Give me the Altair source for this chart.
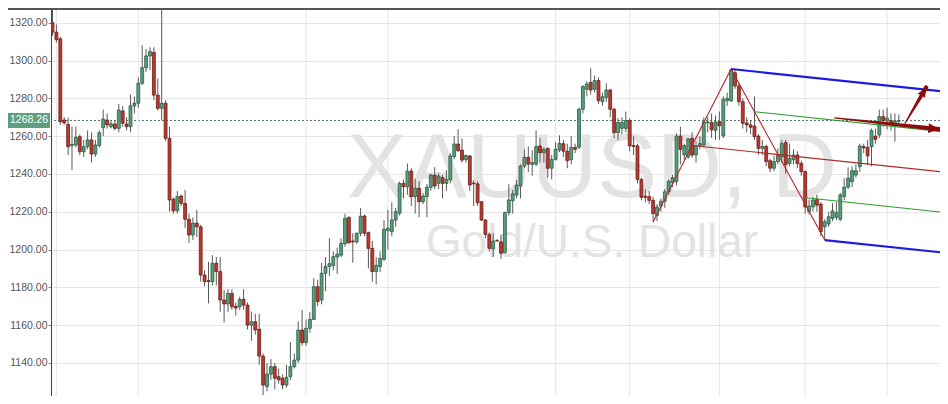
import altair as alt
import pandas as pd

# ---------------- data ----------------
opens = [1320, 1315, 1311.5, 1268.5, 1266.2, 1255, 1255.3, 1259.7, 1251.7, 1254.4,
         1258, 1250.5, 1255, 1264.4, 1268.5, 1265, 1266.4, 1264.1, 1273.3, 1266.4,
         1265, 1276, 1277.4, 1288, 1296.2, 1302.4, 1304.3, 1281.7, 1274.7, 1277.4,
         1258.8, 1226.6, 1220.5, 1228.3, 1224.4, 1216, 1207.7, 1214, 1212, 1186.5,
         1183.5, 1183, 1192.7, 1188.3, 1173.3, 1171.2, 1176.8, 1170, 1169.7, 1173.6,
         1170.6, 1160, 1161.8, 1157.8, 1143.6, 1127.4, 1134.1, 1138, 1132.7, 1131.9,
         1128.3, 1132.7, 1138, 1141.5, 1157.4, 1150.7, 1158.3, 1163, 1180.3, 1173.3,
         1187.4, 1191, 1191.5, 1196, 1197, 1203, 1217, 1204.5, 1204, 1208.6,
         1217.7, 1208.9, 1200.6, 1188.3, 1190.9, 1194.8, 1210, 1209.4, 1215.6, 1219.2,
         1235, 1233.2, 1241.5, 1228, 1232.4, 1225.3, 1228, 1232.9, 1239.4, 1235,
         1238, 1235, 1236.8, 1249.1, 1255.8, 1252.6, 1247.6, 1249.5, 1235.2, 1234.7,
         1225.3, 1215.6, 1208, 1200.3, 1204.8, 1204, 1198.3, 1219.5, 1225.8, 1228.8,
         1233.6, 1244.2, 1248.8, 1245, 1245.2, 1254.8, 1251.2, 1253.5, 1243, 1247.7,
         1252.6, 1256, 1252, 1247.5, 1254, 1254.1, 1274.2, 1284.8, 1288.4, 1284.8,
         1289.4, 1278.2, 1280.5, 1284.4, 1274.2, 1261.8, 1264.1, 1264.1, 1268.2, 1255,
         1254.8, 1237, 1228.3, 1228, 1226, 1218, 1223, 1225.5, 1230.5, 1235.5,
         1236, 1260, 1250, 1249, 1258.8, 1250, 1255, 1255.3, 1267, 1267.2,
         1263, 1267.6, 1260.1, 1278.7, 1278.7, 1293.5, 1286.5, 1278.2, 1267, 1265.9,
         1265.3, 1260, 1253.5, 1254.5, 1247, 1243, 1246.5, 1249, 1256.6, 1245.6,
         1247.5, 1250, 1245.6, 1241.2, 1220, 1222.6, 1226.5, 1224, 1212, 1213.5,
         1216.5, 1217, 1216, 1228, 1233, 1235.9, 1239.4, 1243.8, 1254.5, 1254,
         1254.4, 1260, 1260.6, 1270.3, 1268, 1268.2, 1266, 1267.8]
highs = [1328.5, 1319, 1312.5, 1270, 1269.6, 1265, 1265, 1261, 1258, 1263,
         1262, 1258, 1263, 1274, 1272, 1268, 1268, 1277, 1276, 1270,
         1282, 1281, 1291, 1308, 1306, 1307, 1307, 1290.5, 1338, 1279,
         1265, 1227.5, 1231, 1229, 1231.5, 1219, 1217, 1221, 1213, 1189,
         1193.5, 1197, 1196, 1196, 1178.6, 1179, 1179, 1172, 1175, 1179,
         1172, 1167, 1166, 1166, 1145, 1140, 1142, 1140, 1137, 1134,
         1139, 1151, 1145, 1162, 1168, 1163, 1167, 1184.8, 1184, 1193,
         1196, 1206, 1199, 1201, 1206, 1219, 1217.5, 1208.6, 1209, 1222,
         1218.5, 1209.5, 1204.5, 1196, 1199, 1215.5, 1221, 1225, 1222, 1236,
         1237, 1245.5, 1243, 1237.4, 1236, 1230, 1234.6, 1240, 1243.6, 1240.6,
         1239.5, 1242, 1251, 1260, 1263.6, 1258.8, 1250.3, 1250, 1236.8, 1236,
         1225.5, 1216, 1209, 1208.6, 1205.5, 1208, 1220, 1234.6, 1231.5, 1236.8,
         1245, 1253, 1254.5, 1252.6, 1263, 1259, 1254, 1254, 1250, 1257,
         1260.4, 1258, 1256, 1260, 1256, 1275, 1287, 1289, 1295.9, 1292,
         1291, 1283, 1288, 1285, 1275, 1269.5, 1270, 1273, 1269.5, 1260,
         1256, 1238, 1232, 1231, 1228, 1224, 1227, 1232, 1237, 1239.5,
         1261.5, 1265, 1256, 1259, 1262, 1257, 1260, 1270, 1270, 1272,
         1271, 1273, 1281, 1283, 1295.5, 1295, 1288, 1280, 1270, 1268,
         1281, 1261, 1258, 1255.5, 1248, 1249.5, 1253.5, 1258, 1258, 1256,
         1253, 1252, 1247, 1242, 1226.5, 1228, 1229, 1225, 1216, 1220,
         1224.5, 1225, 1230, 1237.7, 1243.5, 1244, 1245, 1256, 1256, 1258,
         1264, 1264, 1274, 1274, 1275, 1272, 1272, 1271.5]
lows = [1313, 1309.5, 1266, 1266, 1250, 1242, 1254, 1250, 1249, 1253,
        1246, 1249, 1254, 1260, 1264, 1264, 1263, 1262, 1265, 1263,
        1262, 1272, 1275, 1287, 1294, 1295, 1279, 1273.5, 1268.5, 1257.5,
        1220, 1219, 1219, 1223, 1211.4, 1203.4, 1205, 1206.6, 1183, 1180.5,
        1171.5, 1181, 1181, 1167, 1161.3, 1167, 1168, 1165, 1168, 1168,
        1157.7, 1151.7, 1155, 1139, 1123, 1125, 1131, 1126, 1129, 1126,
        1127, 1131, 1137, 1140, 1149, 1149, 1156, 1162.7, 1170, 1171,
        1178, 1186, 1189, 1187, 1196, 1201.5, 1203, 1193, 1203, 1207,
        1207, 1190, 1183, 1181.5, 1188, 1194, 1200, 1207, 1212, 1218,
        1227, 1229, 1223, 1219, 1217, 1224, 1217, 1231, 1232, 1232,
        1227, 1231, 1235, 1247.7, 1251.7, 1246, 1246, 1231, 1223, 1223,
        1215, 1206, 1199, 1196, 1204, 1195, 1198, 1218, 1219, 1227,
        1227, 1243, 1241, 1239, 1244, 1246, 1246, 1238, 1237, 1247,
        1251.5, 1249, 1243, 1245, 1251, 1253, 1272, 1281, 1282, 1283,
        1277, 1276, 1278, 1270, 1259, 1258, 1261, 1262, 1252, 1250,
        1235, 1226, 1225, 1224, 1214.6, 1215, 1220, 1222, 1229, 1233,
        1234, 1245, 1247, 1248, 1248.5, 1246, 1253, 1254, 1262, 1259,
        1258, 1258, 1259, 1276, 1278, 1285, 1276, 1264, 1262, 1261,
        1258, 1250, 1250, 1244, 1241, 1241.5, 1245, 1246, 1240, 1244,
        1245, 1243, 1239, 1219, 1218.5, 1220, 1220, 1207, 1205, 1212,
        1215, 1215.5, 1215, 1226, 1232, 1233, 1238, 1241, 1251, 1244.7,
        1244, 1256, 1259, 1265, 1263.5, 1263, 1257, 1266]
closes = [1315, 1311, 1267.6, 1267, 1254.4, 1255.6, 1259.4, 1251.7, 1254.4, 1258,
          1250.5, 1255.3, 1261.8, 1269, 1265.9, 1266.5, 1264.1, 1273.8, 1266.8, 1265,
          1276, 1277.5, 1288, 1296.2, 1302.4, 1304.7, 1281.7, 1274.7, 1277.4, 1258.8,
          1226.2, 1220.5, 1228, 1224.4, 1216, 1207.7, 1213.9, 1212, 1186.5, 1183,
          1183, 1192.7, 1188.3, 1173.3, 1171.2, 1176.8, 1169.7, 1169, 1173.6, 1170.6,
          1160, 1161.8, 1157.4, 1143.6, 1128.3, 1134.1, 1138, 1131.9, 1131, 1128.3,
          1132.4, 1138, 1141.5, 1157.4, 1150.7, 1158.3, 1163, 1180.3, 1172.4, 1187.4,
          1191, 1192.5, 1196.2, 1197.5, 1203.3, 1216.5, 1203.6, 1204, 1208.6, 1217.7,
          1208.6, 1200.6, 1188.3, 1191.6, 1195.3, 1210.7, 1211.2, 1215.6, 1220, 1235,
          1233.2, 1241.5, 1228, 1232.4, 1225.3, 1228.3, 1233, 1239.4, 1233.6, 1238.9,
          1235, 1237.1, 1249.5, 1255.8, 1252.3, 1247.3, 1249.7, 1234.1, 1234.8, 1224.8,
          1215.6, 1208, 1200.6, 1204.5, 1204.6, 1198, 1219.5, 1226.2, 1229.4, 1234,
          1244.2, 1248.8, 1245.2, 1246, 1254.4, 1251.2, 1253, 1243, 1247.7, 1253,
          1256.2, 1252, 1247, 1254, 1253, 1274.2, 1286.2, 1287.6, 1284.4, 1289.4,
          1278.7, 1280.8, 1284.4, 1274.2, 1261.8, 1267.2, 1267.2, 1268.2, 1254.8, 1254.5,
          1237.1, 1227.6, 1227.6, 1226, 1219, 1222.5, 1225.5, 1230.5, 1236, 1238,
          1260, 1253, 1255, 1258.5, 1250, 1255, 1256, 1267.6, 1267.5, 1263.3,
          1267.5, 1265.5, 1279.5, 1280, 1295, 1286.5, 1278.2, 1266.8, 1265.9, 1264.7,
          1259.7, 1253.5, 1254.5, 1246.5, 1243, 1246.5, 1250, 1256, 1245, 1248.2,
          1250, 1245.5, 1241.2, 1222.5, 1223, 1226.2, 1223.5, 1209.4, 1214.7, 1217.3,
          1220.4, 1219.5, 1228.9, 1233, 1237.7, 1241.7, 1241.7, 1254.8, 1253.8, 1249.5,
          1262.9, 1258.3, 1270.3, 1268.2, 1269.5, 1266, 1268, 1268.26]

price_ticks = [1140, 1160, 1180, 1200, 1220, 1240, 1260, 1280, 1300, 1320]
month_ticks = [1, 22, 65, 86, 129, 148, 171, 193, 214]   # candle index of month gridlines
last_price = 1268.26
last_label = ["1268.26"]
watermark = ["XAUUSD, D", "Gold/U.S. Dollar"]

# pitchfork pivots (candle index, price): A low, B high, C low
pivot_idx = [154, 174, 198]
pivot_px = [1214.6, 1295.5, 1205.0]

# arrows (start -> tip), candle index / price
arrow_start_idx = [200.6, 218.6]
arrow_start_px = [1269.6, 1266.8]
arrow_tip_idx = [227.4, 224.0]
arrow_tip_px = [1263.6, 1285.6]

# ---------------- layout ----------------
W, H = 889, 388
PAD_L = 43
x_dom = [-0.3846, 227.564]
y_dom = [1122.487, 1327.778]
xs = alt.Scale(domain=x_dom, nice=False, zero=False)
ys = alt.Scale(domain=y_dom, nice=False, zero=False)
px_i = W / (x_dom[1] - x_dom[0])
px_p = H / (y_dom[1] - y_dom[0])

GREEN, GREEN_EDGE = "#55a07a", "#2c5a42"
RED, RED_EDGE = "#bb3a30", "#6a1c16"
ARROW = "#8a0c0c"
GRID = "#e6e6e6"

yaxis = alt.Axis(values=price_ticks, format=".2f", title=None, grid=True, gridColor=GRID,
                 labelFont="Liberation Sans", labelFontSize=10.5, labelColor="#555555",
                 tickColor="#888888", tickSize=3, labelPadding=1, domainColor="#444444",
                 domainWidth=1, zindex=0)

df = pd.DataFrame({"i": list(range(len(opens))), "o": opens, "h": highs, "l": lows, "c": closes})

one = pd.DataFrame({"k": [0]})

price_line = alt.Chart(pd.DataFrame({"p": [last_price]})).mark_rule(
    color="#4f7a6a", strokeDash=[2, 2], strokeWidth=1).encode(
    y=alt.Y("p:Q", scale=ys, axis=yaxis))

vgrid = alt.Chart(pd.DataFrame({"m": month_ticks})).mark_rule(color=GRID, strokeWidth=1).encode(
    x=alt.X("m:Q", scale=xs, axis=None))

wm = alt.Chart(pd.DataFrame({"t": watermark, "row": [0, 1]}))
wm1 = wm.transform_filter("datum.row == 0").mark_text(
    font="Liberation Sans", fontSize=90, color="#e3e3e3", align="center", baseline="alphabetic").encode(
    text="t:N", x=alt.value(541), y=alt.value(189))
wm2 = wm.transform_filter("datum.row == 1").mark_text(
    font="Liberation Sans", fontSize=46, color="#e3e3e3", align="center", baseline="alphabetic").encode(
    text="t:N", x=alt.value(541), y=alt.value(249))

wicks = alt.Chart(df).mark_rule(color="#5a5a5a", strokeWidth=1, clip=True).encode(
    x=alt.X("i:Q", scale=xs, axis=None),
    y=alt.Y("l:Q", scale=ys, axis=yaxis), y2="h:Q")

bodies = alt.Chart(df).transform_calculate(
    x0="datum.i - 0.37", x1="datum.i + 0.37").mark_rect(strokeWidth=0.8, clip=True).encode(
    x=alt.X("x0:Q", scale=xs, axis=None), x2="x1:Q",
    y=alt.Y("o:Q", scale=ys, axis=yaxis), y2="c:Q",
    fill=alt.condition("datum.c >= datum.o", alt.value(GREEN), alt.value(RED)),
    stroke=alt.condition("datum.c >= datum.o", alt.value(GREEN_EDGE), alt.value(RED_EDGE)))

# pitchfork geometry from the pivots
ai, bi, ci = pivot_idx
ap, bp, cp = pivot_px
hi_, hp_ = (ai + bi) / 2, (ap + bp) / 2     # handle: midpoint A-B
mi_, mp_ = (bi + ci) / 2, (bp + cp) / 2     # midpoint B-C
slope = (mp_ - hp_) / (mi_ - hi_)
xe = x_dom[1]


def ray(i0, p0):
    return [(i0, p0), (xe, p0 + slope * (xe - i0))]


segs = [
    ("zig", [(ai, ap), (bi, bp), (ci, cp)], "#b02a2a", 1.1),
    ("median", ray(hi_, hp_), "#b02a2a", 1.1),
    ("upper", ray(bi, bp), "#1c1ce0", 2.2),
    ("lower", ray(ci, cp), "#1c1ce0", 2.2),
    ("q_up", ray((bi + mi_) / 2, (bp + mp_) / 2), "#2f9a2f", 1.1),
    ("q_lo", ray((ci + mi_) / 2, (cp + mp_) / 2), "#2f9a2f", 1.1),
]
rows = []
for name, pts, col, w in segs:
    for k, (i, p) in enumerate(pts):
        rows.append({"seg": name, "k": k, "i": i, "p": p, "col": col, "w": w})
fork = alt.Chart(pd.DataFrame(rows)).mark_line(clip=True).encode(
    x=alt.X("i:Q", scale=xs, axis=None), y=alt.Y("p:Q", scale=ys, axis=yaxis),
    detail="seg:N", order="k:Q",
    color=alt.Color("col:N", scale=None), strokeWidth=alt.StrokeWidth("w:Q", scale=None))

# arrows
trail_rows, head_rows = [], []
head_sizes = [100, 70]
for a in range(2):
    trail_rows.append({"a": a, "k": 0, "i": arrow_start_idx[a], "p": arrow_start_px[a], "w": 1.2})
    trail_rows.append({"a": a, "k": 1, "i": arrow_tip_idx[a], "p": arrow_tip_px[a], "w": 4.5})
    dx = (arrow_tip_idx[a] - arrow_start_idx[a]) * px_i
    dy = -(arrow_tip_px[a] - arrow_start_px[a]) * px_p
    import math
    ang = math.degrees(math.atan2(dx, -dy)) % 360
    head_rows.append({"a": a, "i": arrow_tip_idx[a], "p": arrow_tip_px[a], "ang": ang, "s": head_sizes[a]})
trail = alt.Chart(pd.DataFrame(trail_rows)).mark_trail(color=ARROW, clip=True).encode(
    x=alt.X("i:Q", scale=xs, axis=None), y=alt.Y("p:Q", scale=ys, axis=yaxis),
    detail="a:N", order="k:Q", size=alt.Size("w:Q", scale=None))
heads = alt.Chart(pd.DataFrame(head_rows)).mark_point(
    shape="M0,0L1,2.2L-1,2.2Z", filled=True, color=ARROW, opacity=1, strokeWidth=0, clip=True).encode(
    x=alt.X("i:Q", scale=xs, axis=None), y=alt.Y("p:Q", scale=ys, axis=yaxis),
    angle=alt.Angle("ang:Q", scale=None), size=alt.Size("s:Q", scale=None))

top_border = alt.Chart(one).mark_rule(color="#555555", strokeWidth=2).encode(
    x=alt.value(-PAD_L), x2=alt.value(W), y=alt.value(1))

lab = pd.DataFrame({"p": [last_price], "t": last_label})
box = alt.Chart(lab).mark_rect(color="#5f9f7f", yOffset=-7.5, y2Offset=7.5).encode(
    x=alt.value(-PAD_L), x2=alt.value(-1),
    y=alt.Y("p:Q", scale=ys, axis=yaxis), y2="p:Q")
box_text = alt.Chart(lab).mark_text(
    color="white", font="Liberation Sans", fontSize=10.5, align="center", baseline="middle").encode(
    x=alt.value(-22), y=alt.Y("p:Q", scale=ys, axis=yaxis), text="t:N")

chart = alt.layer(
    price_line, vgrid, wm1, wm2, wicks, bodies, fork, trail, heads, top_border, box, box_text
).properties(
    width=W, height=H,
    padding={"left": PAD_L, "top": 0, "right": 0, "bottom": 0},
    autosize=alt.AutoSizeParams(type="none"),
).configure_view(stroke=None)

chart.save("out.html", embed_options={"renderer": "svg", "actions": False})
